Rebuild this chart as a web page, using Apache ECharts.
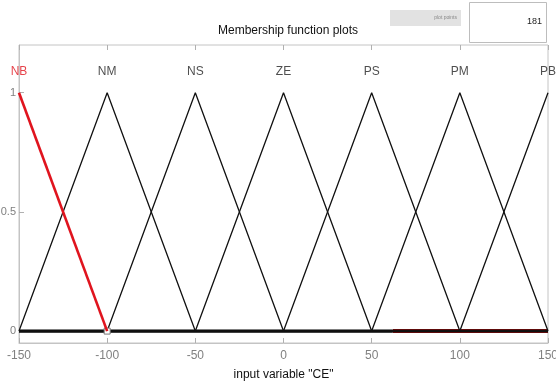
<!DOCTYPE html>
<html>
<head>
<meta charset="utf-8">
<script src="https://cdn.jsdelivr.net/npm/echarts@6/dist/echarts.min.js"></script>
<style>
  html, body { margin: 0; padding: 0; background: #fff; }
  #chart { width: 556px; height: 387px; }
</style>
</head>
<body>
<div id="chart"></div>
<script>
// Membership functions of input variable "CE" (triangular, universe [-150, 150])
const mfNames = ['NB', 'NM', 'NS', 'ZE', 'PS', 'PM', 'PB'];
const mfPeaks = [-150, -100, -50, 0, 50, 100, 150];
const mfHalfWidth = [50, 50, 50, 50, 50, 50, 50];
const xTicks = [-150, -100, -50, 0, 50, 100, 150];
const yTicks = [0, 0.5, 1];
const plotPoints = 181;
const nameLabelLevel = 1.09;
const tailSplit = 62;   // where the selected MF's zero tail shows through

const X_MIN = -150, X_MAX = 150;

function triangle(peak, hw) {
  const pts = [];
  const a = peak - hw, c = peak + hw;
  if (a > X_MIN) pts.push([X_MIN, 0]);
  pts.push([Math.max(a, X_MIN), a < X_MIN ? 1 - (peak - X_MIN) / hw : 0]);
  pts.push([peak, 1]);
  if (c <= X_MAX) pts.push([c, 0]);
  if (c < X_MAX) pts.push([X_MAX, 0]);
  return pts.filter((p, i) => i === 0 || p[0] !== pts[i - 1][0] || p[1] !== pts[i - 1][1]);
}

const series = [];

// combined zero baseline
series.push({
  type: 'line', data: [[X_MIN, 0], [tailSplit, 0]], symbol: 'none', silent: true,
  lineStyle: { color: '#000', width: 3.2 }, z: 3
});
series.push({
  type: 'line', data: [[tailSplit, 0], [X_MAX, 0]], symbol: 'none', silent: true,
  lineStyle: { color: '#5e0a0a', width: 4 }, z: 3
});

mfNames.forEach((name, i) => {
  if (i === 0) return;
  series.push({
    name: name, type: 'line', data: triangle(mfPeaks[i], mfHalfWidth[i]),
    symbol: 'none', silent: true,
    lineStyle: { color: '#111', width: 1.3 }, z: 4
  });
});

// selected membership function (NB) in red
const nb = triangle(mfPeaks[0], mfHalfWidth[0]).filter(p => p[0] <= mfPeaks[0] + mfHalfWidth[0]);
series.push({
  name: mfNames[0], type: 'line', data: nb,
  symbol: 'none', silent: true,
  lineStyle: { color: '#e0141e', width: 2.6 }, z: 5,
  markPoint: {
    symbol: 'rect', symbolSize: 6, silent: true,
    itemStyle: { color: '#fff', borderColor: '#777', borderWidth: 1 },
    label: { show: false },
    data: [{ coord: nb[nb.length - 1] }]
  }
});

// MF names above their peaks
series.push({
  type: 'scatter', symbolSize: 0, silent: true, z: 6,
  data: mfNames.map((n, i) => ({
    value: [mfPeaks[i], nameLabelLevel], name: n,
    label: { color: i === 0 ? '#e0141e' : '#222' }
  })),
  label: {
    show: true, position: 'inside', formatter: p => p.name,
    fontFamily: 'Liberation Sans, Arial', fontSize: 12
  }
});

const chart = echarts.init(document.getElementById('chart'), null, { renderer: 'canvas' });
chart.setOption({
  animation: false,
  backgroundColor: '#fff',
  grid: {
    left: 19, right: 8, top: 45, bottom: 44,
    outerBoundsMode: 'none', containLabel: false,
    show: true, borderColor: '#c4c4c4', borderWidth: 1, backgroundColor: 'transparent'
  },
  title: {
    text: 'Membership function plots', left: 283, top: 20, textAlign: 'center',
    textStyle: { fontFamily: 'Liberation Sans, Arial', fontSize: 12, fontWeight: 'normal', color: '#111' }
  },
  xAxis: [{
    type: 'value', min: X_MIN, max: X_MAX, interval: 50,
    name: 'input variable "CE"', nameLocation: 'middle', nameGap: 26,
    nameTextStyle: { fontFamily: 'Liberation Sans, Arial', fontSize: 12, color: '#111' },
    axisLine: { show: true, onZero: false, lineStyle: { color: '#c4c4c4' } },
    axisTick: { show: true, inside: true, length: 5, lineStyle: { color: '#b0b0b0' } },
    axisLabel: {
      fontFamily: 'Liberation Sans, Arial', fontSize: 12, color: '#808080', margin: 7,
      formatter: v => xTicks.includes(v) ? String(v) : ''
    },
    splitLine: { show: false }
  }, {
    type: 'value', position: 'top', min: X_MIN, max: X_MAX, interval: 50,
    axisLine: { show: false, onZero: false },
    axisTick: { show: true, inside: true, length: 5, lineStyle: { color: '#b0b0b0' } },
    axisLabel: { show: false }, splitLine: { show: false }
  }],
  yAxis: [{
    type: 'value', min: -0.05, max: 1.2,
    axisLine: { show: true, onZero: false, lineStyle: { color: '#c4c4c4' } },
    axisTick: { show: true, inside: true, length: 5, lineStyle: { color: '#b0b0b0' },
      customValues: yTicks },
    axisLabel: {
      fontFamily: 'Liberation Sans, Arial', fontSize: 11, color: '#808080', margin: 3,
      customValues: yTicks, formatter: v => String(v)
    },
    splitLine: { show: false }
  }],
  graphic: [
    { type: 'rect', shape: { x: 390, y: 10, width: 71, height: 16 },
      style: { fill: '#e2e2e2' }, silent: true },
    { type: 'text', x: 457, y: 18,
      style: { text: 'plot points', fill: '#888', fontSize: 5, fontFamily: 'Liberation Sans, Arial',
        align: 'right', verticalAlign: 'middle' }, silent: true },
    { type: 'rect', shape: { x: 469.5, y: 2.5, width: 77, height: 40 },
      style: { fill: '#fff', stroke: '#bdbdbd', lineWidth: 1 }, silent: true },
    { type: 'text', x: 542, y: 22,
      style: { text: String(plotPoints), fill: '#222', fontSize: 9, fontFamily: 'Liberation Sans, Arial',
        align: 'right', verticalAlign: 'middle' }, silent: true }
  ],
  series: series
});
</script>
</body>
</html>
